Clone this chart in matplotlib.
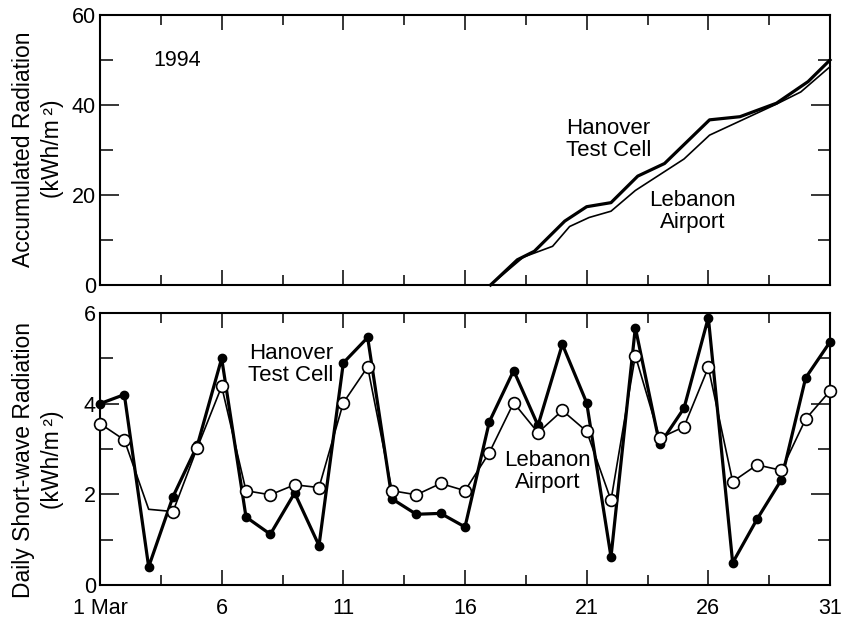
import matplotlib
matplotlib.use("Agg")
import matplotlib.pyplot as plt
from matplotlib.ticker import MultipleLocator, FixedLocator

plt.rcParams['font.family'] = ['Liberation Sans', 'DejaVu Sans']

# --- data ---
days = list(range(1, 32))

hanover_daily = [4.0, 4.2, 0.4, 1.95, 3.08, 5.0, 1.5, 1.12, 2.03, 0.87,
                 4.9, 5.46, 1.9, 1.56, 1.58, 1.28, 3.6, 4.73, 3.52, 5.31,
                 4.02, 0.62, 5.68, 3.1, 3.9, 5.9, 0.49, 1.45, 2.32, 4.57, 5.36]

lebanon_daily = [3.56, 3.2, 1.67, 1.62, 3.03, 4.38, 2.08, 1.99, 2.21, 2.15,
                 4.02, 4.81, 2.08, 1.99, 2.24, 2.08, 2.92, 4.02, 3.36, 3.85,
                 3.39, 1.87, 5.06, 3.24, 3.49, 4.8, 2.28, 2.65, 2.53, 3.66, 4.28]

acc_days_han = [17.05, 18.15, 18.85, 20.1, 21.0, 22.0, 23.1, 24.2, 26.05, 27.3, 28.8, 30.1, 31.0]
acc_han = [0, 5.6, 7.5, 14.2, 17.4, 18.3, 24.2, 27.0, 36.7, 37.4, 40.4, 45.2, 50.0]

acc_days_leb = [17.05, 18.4, 19.6, 20.3, 21.1, 22.0, 23.0, 25.0, 26.05, 28.8, 29.8, 31.0]
acc_leb = [0, 6.2, 8.6, 13.0, 15.0, 16.4, 21.0, 28.0, 33.3, 40.2, 42.9, 48.5]

xtick_pos = [1, 6, 11, 16, 21, 26, 31]
xtick_labels = ["1 Mar", "6", "11", "16", "21", "26", "31"]

W, H = 847, 618
fig = plt.figure(figsize=(W / 100, H / 100), dpi=100)

L, R = 100 / W, 830 / W
ax1 = fig.add_axes([L, 1 - 285 / H, R - L, 270 / H])
ax2 = fig.add_axes([L, 1 - 585 / H, R - L, 272 / H])


def style_axes(ax):
    for s in ax.spines.values():
        s.set_linewidth(1.5)
    ax.set_xlim(1, 31)
    ax.xaxis.set_major_locator(FixedLocator(xtick_pos))
    ax.xaxis.set_minor_locator(FixedLocator([3.5, 8.5, 13.5, 18.5, 23.5, 28.5]))
    ax.tick_params(axis='both', which='both', direction='in', top=True, right=True,
                   width=1.1, labelsize=15.5)
    ax.tick_params(axis='x', which='major', length=11, pad=9)
    ax.tick_params(axis='x', which='minor', length=7)
    ax.tick_params(axis='y', which='major', length=14, pad=3)
    ax.tick_params(axis='y', which='minor', length=9)


# top panel: accumulated
style_axes(ax1)
ax1.set_ylim(0, 60)
ax1.yaxis.set_major_locator(MultipleLocator(20))
ax1.yaxis.set_minor_locator(MultipleLocator(10))
ax1.tick_params(axis='x', labelbottom=False)
ax1.plot(acc_days_han, acc_han, color='black', lw=2.3, clip_on=False)
ax1.plot(acc_days_leb, acc_leb, color='black', lw=1.2, clip_on=False)

ax1.text(3.2, 49.8, "1994", fontsize=15.5, ha='left', va='center')
ax1.text(21.9, 32.4, "Hanover\nTest Cell", fontsize=16, ha='center', va='center',
         linespacing=1.05)
ax1.text(25.35, 16.4, "Lebanon\nAirport", fontsize=16, ha='center', va='center',
         linespacing=1.05)

# bottom panel: daily
style_axes(ax2)
ax2.set_ylim(0, 6)
ax2.yaxis.set_major_locator(MultipleLocator(2))
ax2.yaxis.set_minor_locator(MultipleLocator(1))
ax2.set_xticklabels(xtick_labels)

ax2.plot(days, hanover_daily, color='black', lw=2.3, marker='o', ms=6,
         mfc='black', mec='black', clip_on=False, zorder=3)
leb_marks = [i for i in range(len(days)) if i != 2]
ax2.plot(days, lebanon_daily, color='black', lw=1.2, marker='o', ms=8.5,
         mfc='white', mec='black', mew=1.2, markevery=leb_marks,
         clip_on=False, zorder=4)

ax2.text(8.85, 4.87, "Hanover\nTest Cell", fontsize=16, ha='center', va='center',
         linespacing=1.05)
ax2.text(19.4, 2.5, "Lebanon\nAirport", fontsize=16, ha='center', va='center',
         linespacing=1.05)

fig.text(38 / W, 1 - 149 / H, "Accumulated Radiation\n(kWh/m\u2009\u00b2)", rotation=90,
         ha='center', va='center', multialignment='center', fontsize=16.5, linespacing=1.3)
fig.text(38 / W, 1 - 460 / H, "Daily Short-wave Radiation\n(kWh/m\u2009\u00b2)", rotation=90,
         ha='center', va='center', multialignment='center', fontsize=16.5, linespacing=1.3)

fig.savefig("out.png", dpi=100)
